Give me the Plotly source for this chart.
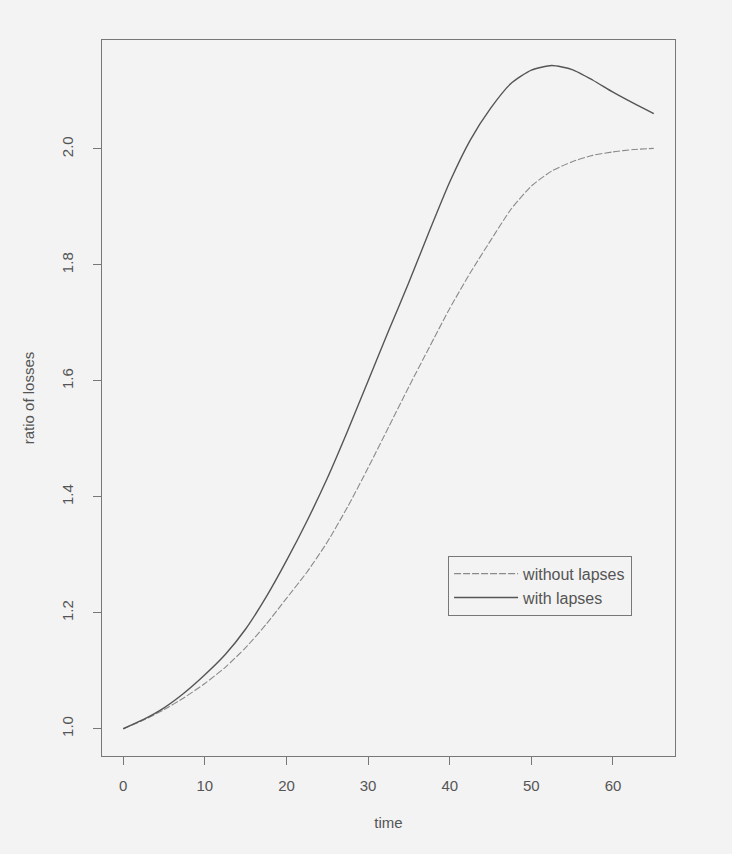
import plotly.graph_objects as go

time_pts = [0, 2.5, 5, 7.5, 10, 12.5, 15, 17.5, 20, 22.5, 25, 27.5, 30, 32.5, 35, 37.5, 40, 42.5, 45, 47.5, 50, 52.5, 55, 57.5, 60, 62.5, 65]

with_lapses = [1.000, 1.016, 1.036, 1.062, 1.093, 1.128, 1.172, 1.227, 1.290, 1.358, 1.432, 1.514, 1.600, 1.686, 1.770, 1.858, 1.943, 2.015, 2.070, 2.113, 2.136, 2.144, 2.137, 2.119, 2.098, 2.079, 2.061]

without_lapses = [1.000, 1.015, 1.033, 1.054, 1.078, 1.106, 1.140, 1.180, 1.225, 1.270, 1.322, 1.383, 1.450, 1.520, 1.590, 1.658, 1.725, 1.786, 1.842, 1.896, 1.936, 1.962, 1.978, 1.989, 1.995, 1.999, 2.001]

x_ticks = [0, 10, 20, 30, 40, 50, 60]
y_ticks = [1.0, 1.2, 1.4, 1.6, 1.8, 2.0]
y_tick_labels = ["1.0", "1.2", "1.4", "1.6", "1.8", "2.0"]

fig = go.Figure()
fig.add_trace(go.Scatter(
    x=time_pts, y=without_lapses, mode="lines", name="without lapses",
    line=dict(color="#8a8a8a", width=1.1, dash="7px,2px", shape="spline", smoothing=0.6),
))
fig.add_trace(go.Scatter(
    x=time_pts, y=with_lapses, mode="lines", name="with lapses",
    line=dict(color="#555555", width=1.4, shape="spline", smoothing=0.6),
))

font_col = "#555555"
fs = 15
fig.update_layout(
    width=732, height=854,
    margin=dict(l=102, r=57, t=40, b=98),
    paper_bgcolor="#f3f3f3", plot_bgcolor="#f3f3f3",
    font=dict(family="Liberation Sans, Arial, sans-serif", size=fs, color=font_col),
    showlegend=True,
    legend=dict(
        x=0.604, y=0.2797, xanchor="left", yanchor="top",
        bgcolor="rgba(0,0,0,0)", bordercolor="#777777", borderwidth=1,
        font=dict(size=16, color=font_col), itemwidth=64,
        tracegroupgap=0,
    ),
    xaxis=dict(
        range=[-2.6, 67.6], tickvals=x_ticks, ticks="outside", ticklen=8,
        tickcolor="#777777", showgrid=False, zeroline=False,
        showline=True, linecolor="#777777", linewidth=1.2, mirror=True,
        ticklabelstandoff=8,
        title=dict(text="time", standoff=24, font=dict(size=fs, color=font_col)),
        tickfont=dict(size=fs, color=font_col),
    ),
    yaxis=dict(
        range=[0.953, 2.188], tickvals=y_ticks, ticktext=y_tick_labels,
        ticks="outside", ticklen=8, tickangle=-90, ticklabelstandoff=14,
        tickcolor="#777777", showgrid=False, zeroline=False,
        showline=True, linecolor="#777777", linewidth=1.2, mirror=True,
        title=dict(text="ratio of losses", standoff=20, font=dict(size=fs, color=font_col)),
        tickfont=dict(size=fs, color=font_col),
    ),
)

fig.write_html("out.html", config={"displayModeBar": False},
               post_script="document.body.style.margin='0';")
